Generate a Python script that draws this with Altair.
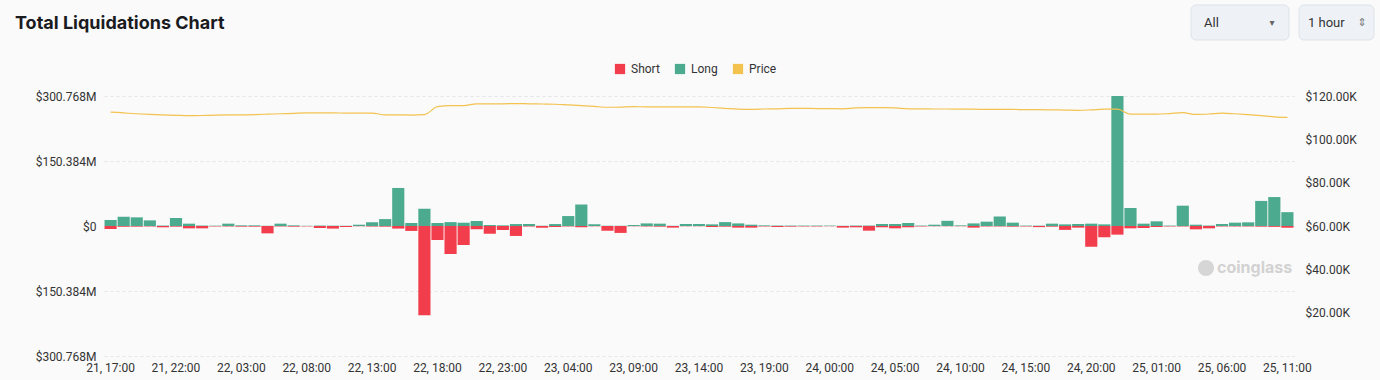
import altair as alt
import pandas as pd

# ---- data ----
days = [21]*7 + [22]*24 + [23]*24 + [24]*24 + [25]*12
hours = list(range(17, 24)) + list(range(24))*3 + list(range(12))
labels = [f"{d}, {h:02d}:00" for d, h in zip(days, hours)]

long_m = [13.9, 21.6, 20, 13, 1, 18.5, 5.4, 1, 0.8, 5.4,
          1.5, 1.5, 0.5, 5.4, 1.5, 0.5, 1, 0.8, 0.5, 3,
          8.5, 16, 88, 7, 40, 7, 9, 7.6, 11.6, 2.3,
          1.5, 4.5, 4.5, 0.5, 4.5, 23, 50, 3.8, 0.5, 0.5,
          2.3, 6, 5.4, 0.5, 4.6, 4.6, 3.8, 9, 6, 3,
          1.5, 1, 1, 1, 1, 1, 0.5, 1, 1, 4.6,
          4.6, 7, 1, 3, 12, 1.5, 6, 10, 22, 7.7,
          1, 0.8, 5.4, 3.8, 4.6, 5.4, 3.8, 300.768, 41.6, 5.4,
          10.8, 1, 47, 3, 1, 4.6, 7.7, 8.5, 58, 67,
          32]
short_m = [7, 1.5, 1.5, 1, 3, 1.5, 5.4, 5.4, 1, 1,
           1.5, 1.5, 17, 1, 1.5, 0.8, 4.6, 6, 2.3, 0.5,
           1, 1.5, 6, 11.4, 206.7, 32.4, 64.8, 44, 7.7, 17.7,
           9.3, 23, 1, 3.8, 2.3, 1, 3, 0.5, 10.8, 16,
           0.5, 1, 1.5, 3.8, 0.5, 0.5, 2.3, 1.5, 3.8, 3.8,
           1, 2.3, 1.5, 1, 1, 0.5, 3.8, 3, 10.8, 3,
           5.4, 3, 1, 0.5, 0.5, 0.5, 3.8, 1, 1, 1.5,
           1, 2.6, 1.5, 9, 3.8, 48, 26, 20, 5.4, 4.6,
           2.3, 1, 1, 7.7, 5.4, 1, 1, 1, 1.5, 2,
           4]
price_k = [112.6, 112.2, 111.8, 111.5, 111.3, 111.1, 110.9, 111.0, 111.2, 111.3,
           111.3, 111.4, 111.6, 111.8, 112.0, 112.2, 112.2, 112.2, 112.1, 112.1,
           112.1, 111.3, 111.3, 111.2, 111.4, 115.1, 115.6, 115.6, 116.4, 116.4,
           116.4, 116.5, 116.4, 116.3, 116.2, 115.9, 115.6, 115.2, 114.8, 114.9,
           115.1, 115.0, 115.0, 115.0, 115.0, 115.0, 114.7, 114.3, 113.9, 113.8,
           114.0, 114.1, 114.3, 114.3, 114.2, 114.2, 114.1, 114.5, 114.6, 114.6,
           114.5, 114.1, 114.1, 114.0, 114.0, 113.9, 113.9, 113.8, 113.8, 113.8,
           113.7, 113.7, 113.6, 113.5, 113.4, 113.6, 113.9, 113.9, 111.6, 111.6,
           111.6, 111.9, 112.3, 111.5, 111.7, 112.1, 111.8, 111.4, 110.9, 110.4,
           110.1]

MAXV = 300.768
left_ticks = [-MAXV, -MAXV / 2, 0, MAXV / 2, MAXV]
right_ticks = [20000, 40000, 60000, 80000, 100000, 120000]
x_ticks = labels[::5]

RED, GREEN, GOLD = "#f23e4c", "#4cab8e", "#f3c24f"
FONT = "Roboto"

bars_df = pd.DataFrame({
    "time": labels * 2,
    "value": long_m + [-s for s in short_m],
    "type": ["Long"] * len(labels) + ["Short"] * len(labels),
})
price_df = pd.DataFrame({"time": labels, "price": [p * 1000 for p in price_k]})

x_enc = alt.X("time:N", sort=labels, title=None,
              scale=alt.Scale(paddingInner=0.07, paddingOuter=0.04),
              axis=alt.Axis(values=x_ticks, labelAngle=0, ticks=False, domain=False,
                            labelPadding=6, labelFont=FONT, labelFontSize=12,
                            labelColor="#333333", grid=False))

bars = alt.Chart(bars_df).mark_bar().encode(
    x=x_enc,
    y=alt.Y("value:Q", stack=None, title=None,
            scale=alt.Scale(domain=[-MAXV, MAXV], nice=False),
            axis=alt.Axis(values=left_ticks, ticks=False, domain=False, labelPadding=8,
                          labelFont=FONT, labelFontSize=12, labelColor="#333333",
                          labelExpr="datum.value == 0 ? '$0' : '$' + format(abs(datum.value), '.3f') + 'M'",
                          grid=True, gridColor="#e4e4e4", gridDash=[3, 3], orient="left")),
    color=alt.Color("type:N",
                    scale=alt.Scale(domain=["Short", "Long", "Price"], range=[RED, GREEN, GOLD]),
                    legend=alt.Legend(title=None, orient="none", legendX=510, legendY=-33,
                                      direction="horizontal", symbolType="square",
                                      symbolSize=105, symbolStrokeWidth=0,
                                      labelFont=FONT, labelFontSize=12, labelColor="#333333",
                                      columnPadding=14, labelOffset=5)),
)

line = alt.Chart(price_df).mark_line(color=GOLD, strokeWidth=1.2, interpolate="monotone").encode(
    x=alt.X("time:N", sort=labels),
    y=alt.Y("price:Q", title=None,
            scale=alt.Scale(domain=[0, 120000], nice=False),
            axis=alt.Axis(values=right_ticks, orient="right", ticks=False, domain=False,
                          labelPadding=11, labelFont=FONT, labelFontSize=12, labelColor="#333333",
                          labelExpr="'$' + format(datum.value / 1000, '.2f') + 'K'", grid=False)),
)

one = pd.DataFrame({"t": ["Total Liquidations Chart"]})
title = alt.Chart(one).mark_text(font="Inter", fontSize=18, fontWeight=700, color="#1b1b1f",
                                 align="left", baseline="alphabetic").encode(
    x=alt.value(-89), y=alt.value(-67), text="t:N")

btn_df = pd.DataFrame({"t": ["All"]})
btn1 = alt.Chart(btn_df).mark_rect(cornerRadius=5, fill="#eef2f7", stroke="#dde3ea").encode(
    x=alt.value(1087), x2=alt.value(1185), y=alt.value(-91), y2=alt.value(-56))
btn2 = alt.Chart(btn_df).mark_rect(cornerRadius=5, fill="#eef2f7", stroke="#dde3ea").encode(
    x=alt.value(1195), x2=alt.value(1270), y=alt.value(-91), y2=alt.value(-56))
btn1_t = alt.Chart(pd.DataFrame({"t": ["All"]})).mark_text(
    font=FONT, fontSize=13, color="#333333", align="left", baseline="middle").encode(
    x=alt.value(1100), y=alt.value(-73), text="t:N")
btn1_c = alt.Chart(pd.DataFrame({"t": ["▾"]})).mark_text(
    font="DejaVu Sans", fontSize=10, color="#666666", align="center", baseline="middle").encode(
    x=alt.value(1168), y=alt.value(-73), text="t:N")
btn2_t = alt.Chart(pd.DataFrame({"t": ["1 hour"]})).mark_text(
    font=FONT, fontSize=13, color="#333333", align="left", baseline="middle").encode(
    x=alt.value(1204), y=alt.value(-73), text="t:N")
btn2_c = alt.Chart(pd.DataFrame({"t": ["⇕"]})).mark_text(
    font="DejaVu Sans", fontSize=11, color="#777777", align="center", baseline="middle").encode(
    x=alt.value(1258), y=alt.value(-73), text="t:N")

wm = alt.Chart(pd.DataFrame({"t": ["coinglass"]})).mark_text(
    font="Inter", fontSize=16, fontWeight=700, color="#d2d2d2", align="left",
    baseline="middle").encode(x=alt.value(1113), y=alt.value(172), text="t:N")
wm_logo = alt.Chart(pd.DataFrame({"t": ["c"]})).mark_point(
    shape="circle", filled=True, color="#d6d6d6", size=260, opacity=1).encode(
    x=alt.value(1102), y=alt.value(172))

chart = alt.layer(bars, line, title, btn1, btn2, btn1_t, btn1_c, btn2_t, btn2_c, wm_logo, wm).resolve_scale(
    y="independent"
).properties(
    width=1190, height=260,
    padding={"left": 104, "top": 96, "right": 86, "bottom": 24},
    autosize=alt.AutoSizeParams(type="none"),
    background="#fafafa",
).configure_view(stroke=None)

chart.save("out.html", embed_options={"renderer": "svg", "actions": False})
